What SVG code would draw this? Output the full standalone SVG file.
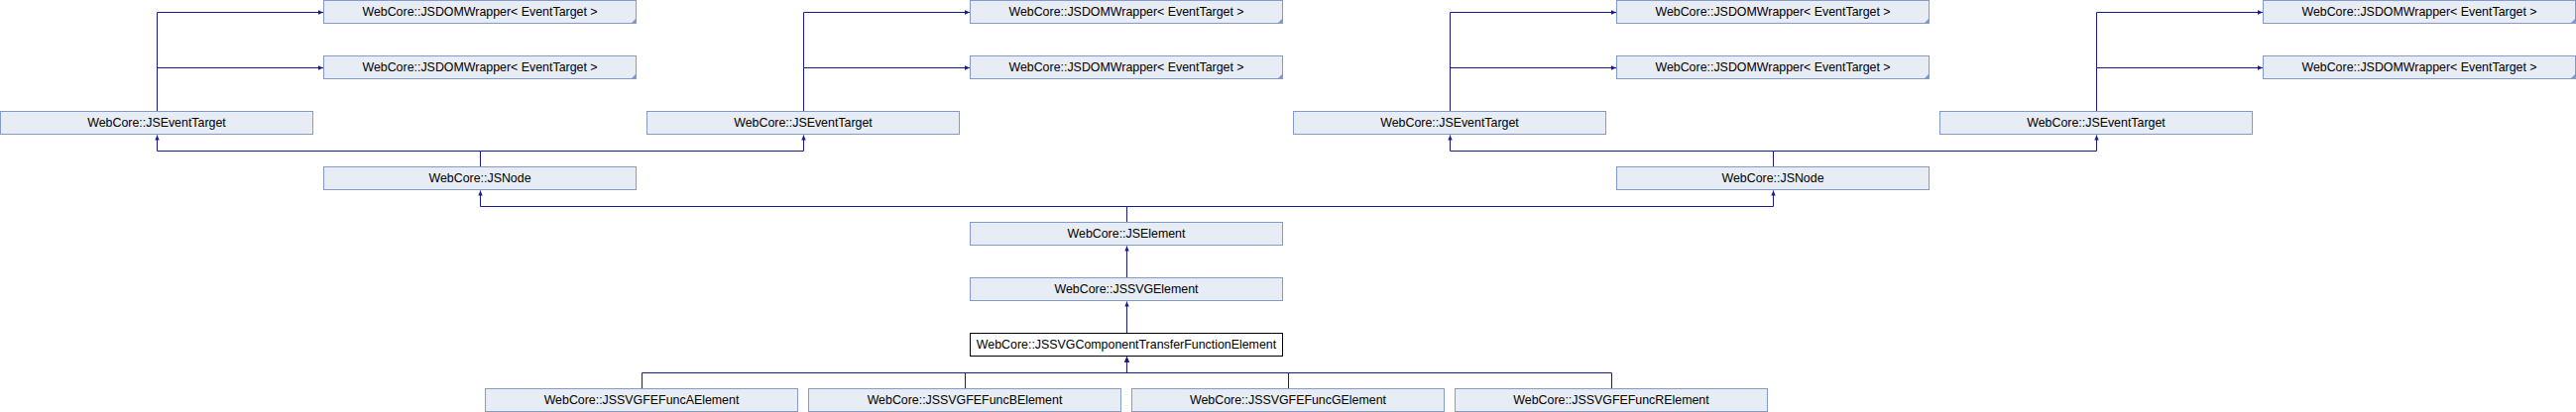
<svg xmlns="http://www.w3.org/2000/svg" width="2598" height="416" viewBox="0 0 2598 416">
<style>
.n rect{fill:#e8ecf5;stroke:#8199cc;stroke-width:1}
.n.hl rect{fill:#ffffff;stroke:#000000}
.n polygon{fill:#8199cc}
.n text{font-family:"Liberation Sans",Arial,Helvetica,sans-serif;font-size:12.4px;fill:#000000;text-anchor:middle}
#edges path{fill:none;stroke:#191990;stroke-width:1;marker-end:url(#arr)}
</style>
<defs>
<marker id="arr" markerUnits="userSpaceOnUse" viewBox="0 0 10 10" refX="10" refY="5" markerWidth="5.5" markerHeight="5" orient="auto">
<path d="M0,0.5 L10,5 L0,9.5 Z" fill="#191990"/>
</marker>
</defs>
<rect width="2598" height="416" fill="#ffffff"/>

<g id="edges">
<!-- JSEventTarget -> JSDOMWrapper -->
<path d="M158.5,112.5 V12.5 H326"/>
<path d="M158.5,112.5 V68.5 H326"/>
<path d="M810.5,112.5 V12.5 H978"/>
<path d="M810.5,112.5 V68.5 H978"/>
<path d="M1462.5,112.5 V12.5 H1630"/>
<path d="M1462.5,112.5 V68.5 H1630"/>
<path d="M2114.5,112.5 V12.5 H2282"/>
<path d="M2114.5,112.5 V68.5 H2282"/>
<!-- JSNode -> JSEventTarget -->
<path d="M484.5,168.5 V152.5 H158.5 V136.5"/>
<path d="M484.5,168.5 V152.5 H810.5 V136.5"/>
<path d="M1788.5,168.5 V152.5 H1462.5 V136.5"/>
<path d="M1788.5,168.5 V152.5 H2114.5 V136.5"/>
<!-- JSElement -> JSNode -->
<path d="M1136.5,224.5 V208.5 H484.5 V192.5"/>
<path d="M1136.5,224.5 V208.5 H1788.5 V192.5"/>
<!-- JSSVGElement -> JSElement -->
<path d="M1136.5,280.5 V248.5"/>
<!-- Transfer -> JSSVGElement -->
<path d="M1136.5,336.5 V304.5"/>
<!-- Func* -> Transfer -->
<path d="M647.5,392.5 V376.5 H1136.5 V360.5"/>
<path d="M973.5,392.5 V376.5 H1136.5 V360.5"/>
<path d="M1299.5,392.5 V376.5 H1136.5 V360.5"/>
<path d="M1625.5,392.5 V376.5 H1136.5 V360.5"/>
</g>

<g id="dw1a" class="n"><rect x="326.5" y="0.5" width="315" height="23"/><polygon points="641.5,18.5 641.5,23.5 636.5,23.5"/><text x="484" y="15.5">WebCore::JSDOMWrapper&lt; EventTarget &gt;</text></g>
<g id="dw1b" class="n"><rect x="326.5" y="56.5" width="315" height="23"/><polygon points="641.5,74.5 641.5,79.5 636.5,79.5"/><text x="484" y="71.5">WebCore::JSDOMWrapper&lt; EventTarget &gt;</text></g>
<g id="dw3a" class="n"><rect x="978.5" y="0.5" width="315" height="23"/><polygon points="1293.5,18.5 1293.5,23.5 1288.5,23.5"/><text x="1136" y="15.5">WebCore::JSDOMWrapper&lt; EventTarget &gt;</text></g>
<g id="dw3b" class="n"><rect x="978.5" y="56.5" width="315" height="23"/><polygon points="1293.5,74.5 1293.5,79.5 1288.5,79.5"/><text x="1136" y="71.5">WebCore::JSDOMWrapper&lt; EventTarget &gt;</text></g>
<g id="dw5a" class="n"><rect x="1630.5" y="0.5" width="315" height="23"/><polygon points="1945.5,18.5 1945.5,23.5 1940.5,23.5"/><text x="1788" y="15.5">WebCore::JSDOMWrapper&lt; EventTarget &gt;</text></g>
<g id="dw5b" class="n"><rect x="1630.5" y="56.5" width="315" height="23"/><polygon points="1945.5,74.5 1945.5,79.5 1940.5,79.5"/><text x="1788" y="71.5">WebCore::JSDOMWrapper&lt; EventTarget &gt;</text></g>
<g id="dw7a" class="n"><rect x="2282.5" y="0.5" width="315" height="23"/><polygon points="2597.5,18.5 2597.5,23.5 2592.5,23.5"/><text x="2440" y="15.5">WebCore::JSDOMWrapper&lt; EventTarget &gt;</text></g>
<g id="dw7b" class="n"><rect x="2282.5" y="56.5" width="315" height="23"/><polygon points="2597.5,74.5 2597.5,79.5 2592.5,79.5"/><text x="2440" y="71.5">WebCore::JSDOMWrapper&lt; EventTarget &gt;</text></g>

<g id="et0" class="n"><rect x="0.5" y="112.5" width="315" height="23"/><text x="158" y="127.5">WebCore::JSEventTarget</text></g>
<g id="et2" class="n"><rect x="652.5" y="112.5" width="315" height="23"/><text x="810" y="127.5">WebCore::JSEventTarget</text></g>
<g id="et4" class="n"><rect x="1304.5" y="112.5" width="315" height="23"/><text x="1462" y="127.5">WebCore::JSEventTarget</text></g>
<g id="et6" class="n"><rect x="1956.5" y="112.5" width="315" height="23"/><text x="2114" y="127.5">WebCore::JSEventTarget</text></g>

<g id="node1" class="n"><rect x="326.5" y="168.5" width="315" height="23"/><text x="484" y="183.5">WebCore::JSNode</text></g>
<g id="node5" class="n"><rect x="1630.5" y="168.5" width="315" height="23"/><text x="1788" y="183.5">WebCore::JSNode</text></g>

<g id="element" class="n"><rect x="978.5" y="224.5" width="315" height="23"/><text x="1136" y="239.5">WebCore::JSElement</text></g>
<g id="svgelement" class="n"><rect x="978.5" y="280.5" width="315" height="23"/><text x="1136" y="295.5">WebCore::JSSVGElement</text></g>
<g id="transfer" class="n hl"><rect x="978.5" y="336.5" width="315" height="23"/><text x="1136" y="351.5">WebCore::JSSVGComponentTransferFunctionElement</text></g>

<g id="funcA" class="n"><rect x="489.5" y="392.5" width="315" height="23"/><text x="647" y="407.5">WebCore::JSSVGFEFuncAElement</text></g>
<g id="funcB" class="n"><rect x="815.5" y="392.5" width="315" height="23"/><text x="973" y="407.5">WebCore::JSSVGFEFuncBElement</text></g>
<g id="funcG" class="n"><rect x="1141.5" y="392.5" width="315" height="23"/><text x="1299" y="407.5">WebCore::JSSVGFEFuncGElement</text></g>
<g id="funcR" class="n"><rect x="1467.5" y="392.5" width="315" height="23"/><text x="1625" y="407.5">WebCore::JSSVGFEFuncRElement</text></g>
</svg>
